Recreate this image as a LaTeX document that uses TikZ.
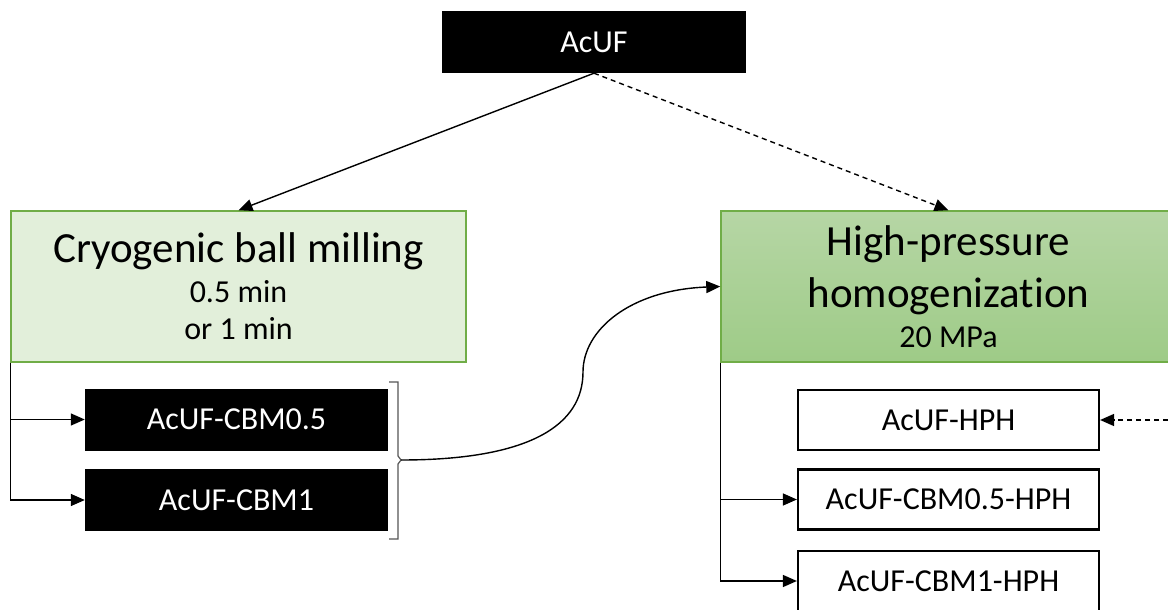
\documentclass[tikz,border=0pt]{standalone}
\usepackage{fontspec}
\setmainfont{Carlito}[Ligatures=NoCommon]
\usetikzlibrary{arrows.meta}
\definecolor{millfill}{HTML}{E2EFDA}
\definecolor{boxgreen}{HTML}{70AD47}
\definecolor{hphtop}{RGB}{182,214,165}
\definecolor{hphbot}{RGB}{158,203,135}
\definecolor{bracegray}{HTML}{555555}

\begin{document}
\begin{tikzpicture}[x=1pt,y=-1pt,
  >={Triangle[length=14pt,width=12pt]},
  darkbox/.style={fill=black,text=white,font=\fontsize{32}{38}\selectfont,
    minimum width=303pt,minimum height=62pt,inner sep=0pt},
  whitebox/.style={draw=black,line width=2.2pt,fill=white,font=\fontsize{32}{38}\selectfont,
    minimum width=301pt,minimum height=60pt,inner sep=0pt},
  stagebox/.style={draw=boxgreen,line width=1.5pt,minimum width=455pt,
    minimum height=151pt,inner sep=0pt},
  bigtxt/.style={font=\fontsize{43}{50}\selectfont,anchor=base,inner sep=0pt},
  smalltxt/.style={font=\fontsize{32}{38}\selectfont,anchor=base,inner sep=0pt},
  link/.style={line width=1.4pt,->},
  dashlink/.style={line width=1.4pt,->,dash pattern=on 5pt off 4pt}]

\useasboundingbox (0,0) rectangle (1168,610);
\fill[white] (0,0) rectangle (1168,610);
\clip (0,0) rectangle (1168,610);

% raw material
\node[darkbox,minimum width=304pt] (acuf) at (594,42) {AcUF};

% treatment stages
\node[stagebox,fill=millfill] (cbm) at (238.5,286.5) {};
\node[bigtxt]   (cbmtitle) at (238.5,262) {Cryogenic ball milling};
\node[smalltxt] (cbmtimeA) at (238.5,302) {0.5 min};
\node[smalltxt] (cbmtimeB) at (238.5,339) {or 1 min};

\node[stagebox,top color=hphtop,bottom color=hphbot] (hph) at (948.5,286.5) {};
\node[bigtxt]   (hphtitleA) at (948.5,255) {High-pressure};
\node[bigtxt]   (hphtitleB) at (948.5,307) {homogenization};
\node[smalltxt] (hphpress)  at (948.5,347) {20 MPa};

% milled samples
\node[darkbox] (cbm05) at (236.5,419.5) {AcUF-CBM0.5};
\node[darkbox] (cbm1)  at (236.5,500)   {AcUF-CBM1};

% homogenized samples
\node[whitebox] (hphA) at (948.5,420)   {AcUF-HPH};
\node[whitebox] (hphB) at (948.5,499.5) {AcUF-CBM0.5-HPH};
\node[whitebox] (hphC) at (948.5,581)   {AcUF-CBM1-HPH};

% connectors from the raw material
\draw[link] (acuf.south) -- (cbm.north);
\draw[dashlink] (acuf.south) -- (hph.north);

% milling branches
\draw[link] (cbm.south west) |- (cbm05.west);
\draw[link] (cbm.south west) |- (cbm1.west);

% homogenization branches
\draw[link] (hph.south west) |- (hphB.west);
\draw[link] (hph.south west) |- (hphC.west);

\coordinate (edge) at (1168,420);
\draw[dashlink] (edge) -- (hphA.east);

% brace grouping the milled samples
\coordinate (bracetip) at (401,460);
\draw[bracegray,line width=1.2pt] (389,382) -- (398,382) -- (398,456) -- (bracetip)
  -- (398,464) -- (398,539) -- (389,539);

\draw[link] (bracetip) .. controls (530,460) and (583,425) .. (583,372)
  .. controls (583,330) and (630,290) .. (hph.west);
\end{tikzpicture}
\end{document}
